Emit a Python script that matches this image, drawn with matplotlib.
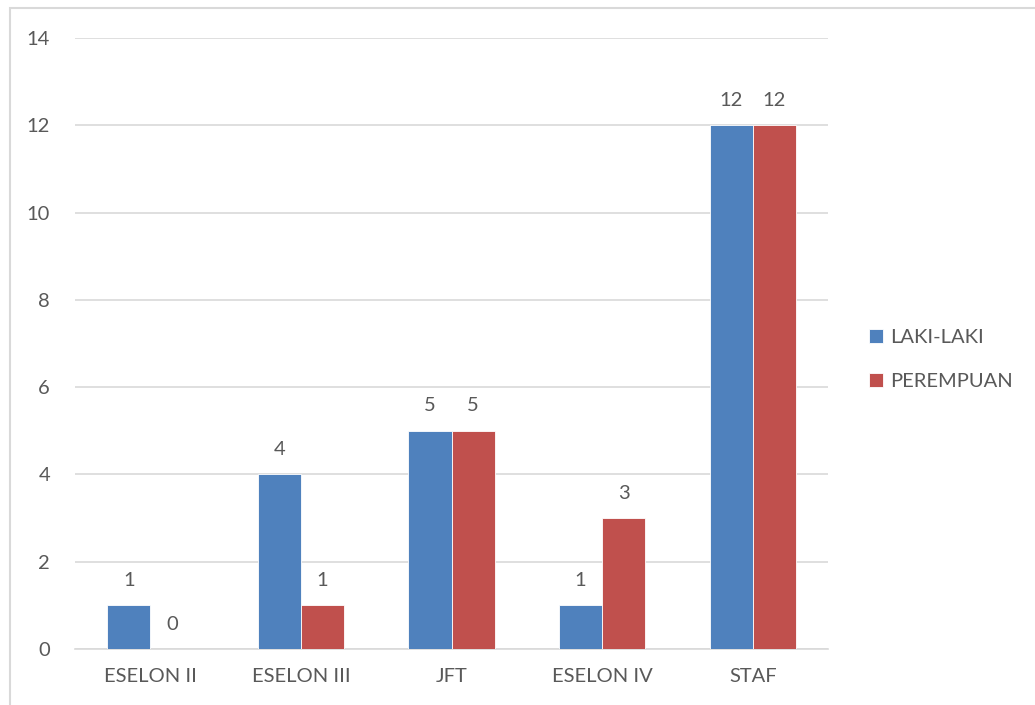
import matplotlib
matplotlib.use('Agg')
import matplotlib.pyplot as plt
import matplotlib.patches as mpatches
import numpy as np

categories = ['ESELON II', 'ESELON III', 'JFT', 'ESELON IV', 'STAF']
laki = [1, 4, 5, 1, 12]
perempuan = [0, 1, 5, 3, 12]
series_names = ['LAKI-LAKI', 'PEREMPUAN']
yticks = [0, 2, 4, 6, 8, 10, 12, 14]

blue = '#4F81BD'
red = '#C0504D'
grey_text = '#595959'
grid_col = '#D9D9D9'

plt.rcParams['font.family'] = ['Lato', 'DejaVu Sans']

fig = plt.figure(figsize=(10.35, 7.05), dpi=100)
ax = fig.add_axes([0.0725, 0.0794, 0.7275, 0.8666])

# outer chart border
fig.patches.append(mpatches.Rectangle((10 / 1035, -0.1), 1.2, 1 - 8 / 705 + 0.1,
                                      transform=fig.transFigure, fill=False,
                                      edgecolor='#D9D9D9', linewidth=1.5))

x = np.arange(len(categories))
w = 0.286
b1 = ax.bar(x - w / 2, laki, w, color=blue, edgecolor='white', linewidth=0.6, label=series_names[0], zorder=3)
b2 = ax.bar(x + w / 2, perempuan, w, color=red, edgecolor='white', linewidth=0.6, label=series_names[1], zorder=3)

fs = 14.5
for bars, vals in [(b1, laki), (b2, perempuan)]:
    for b, v in zip(bars, vals):
        ax.annotate(str(v), (b.get_x() + b.get_width() / 2, v), xytext=(0, 18),
                    textcoords='offset points', ha='center', va='center',
                    fontsize=fs, color=grey_text)

ax.set_xlim(-0.5, len(categories) - 0.5)
ax.set_ylim(0, 14)
ax.set_yticks(yticks)
ax.set_xticks(x)
ax.set_xticklabels(categories)
ax.tick_params(axis='both', length=0, labelsize=fs, labelcolor=grey_text)
ax.tick_params(axis='y', pad=18)
ax.tick_params(axis='x', pad=14)
ax.yaxis.grid(True, color=grid_col, linewidth=1.2, zorder=0)
ax.set_axisbelow(True)
for s in ['top', 'right', 'left']:
    ax.spines[s].set_visible(False)
ax.spines['bottom'].set_color(grid_col)
ax.spines['bottom'].set_linewidth(1.2)

fig.legend(handles=[b1, b2], loc='center left', bbox_to_anchor=(0.822, 0.49),
           frameon=False, fontsize=fs, labelcolor=grey_text, handlelength=0.7,
           handleheight=0.7, handletextpad=0.35, labelspacing=1.35)

fig.savefig('out.png', dpi=100)
